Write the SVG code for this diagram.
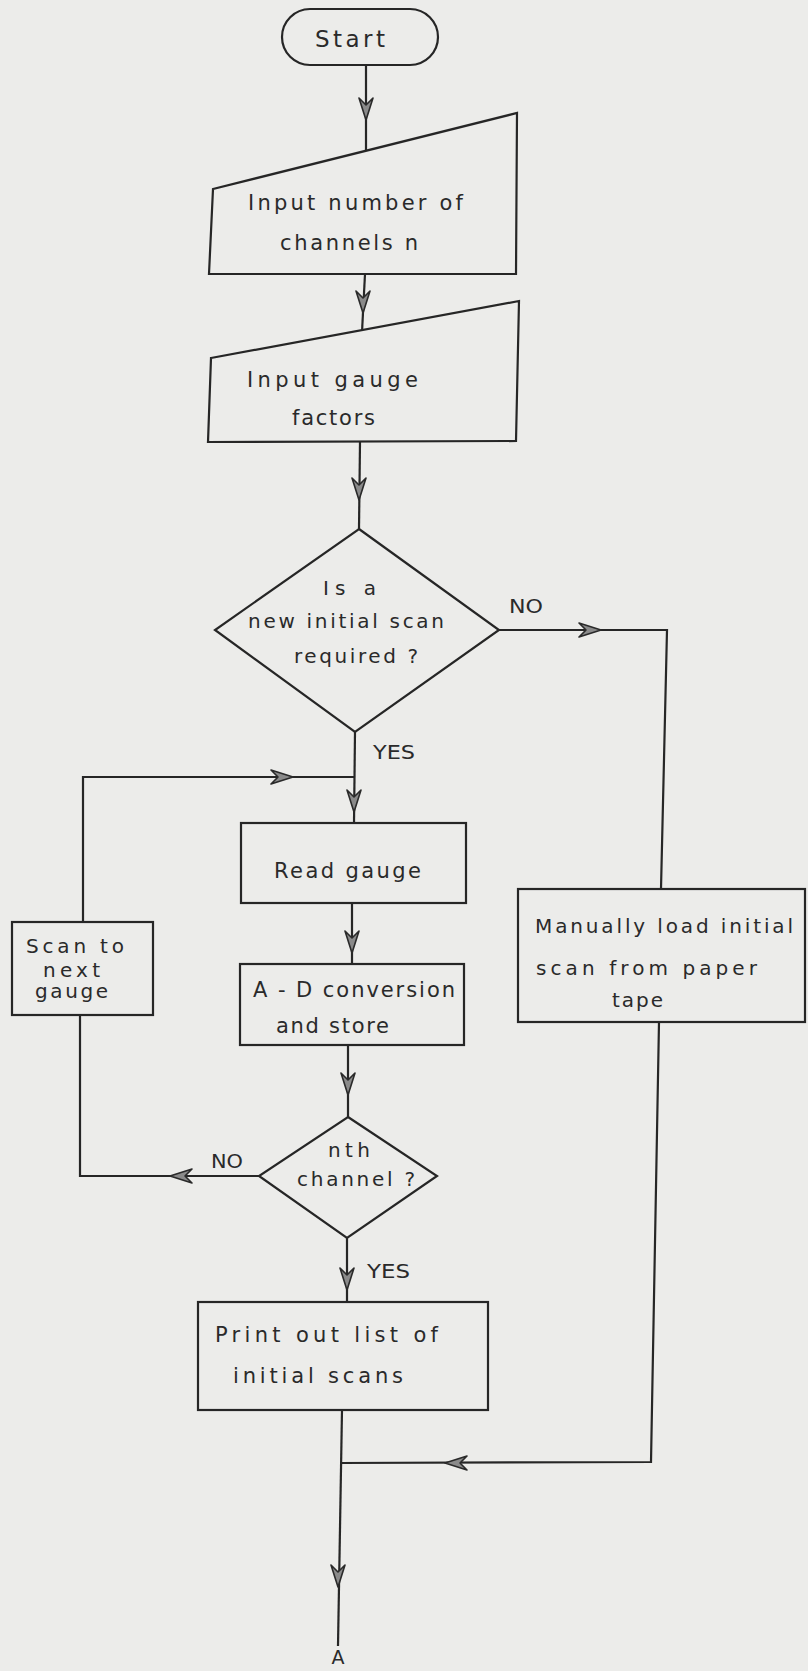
<svg xmlns="http://www.w3.org/2000/svg" xmlns:xlink="http://www.w3.org/1999/xlink" width="808" height="1671" viewBox="0 0 808 1671">
<style>
.sh{fill:#ececea;stroke:#262626;stroke-width:2.2;stroke-linejoin:miter}
.cn{fill:none;stroke:#262626;stroke-width:2.2}
.t{font-family:"DejaVu Sans","Liberation Sans",sans-serif;fill:#2a2a2a;font-size:21px}
.s{font-size:19px}
.m{font-size:20px}
.l{font-size:23px}
</style>
<defs>
<path id="ah" d="M-22,-7 L0,0 L-22,7 L-15,0 Z" fill="#8a8a8a" stroke="#2a2a2a" stroke-width="1.6" stroke-linejoin="round"/>
</defs>
<rect width="808" height="1671" fill="#ececea"/>

<g id="connectors">
<path class="cn" d="M366,65 L366,152"/>
<path class="cn" d="M365,274 L362,332"/>
<path class="cn" d="M360,442 L359,529"/>
<path class="cn" d="M499,630 L667,630 L661,889"/>
<path class="cn" d="M355,732 L354,823"/>
<path class="cn" d="M83,922 L83,777 L354,777"/>
<path class="cn" d="M352,903 L352,964"/>
<path class="cn" d="M348,1045 L348,1117"/>
<path class="cn" d="M259,1176 L80,1176 L80,1015"/>
<path class="cn" d="M347,1238 L347,1302"/>
<path class="cn" d="M659,1022 L651,1462 L340,1463"/>
<path class="cn" d="M342,1410 L338,1646"/>
<use xlink:href="#ah" transform="translate(366,120) rotate(90)"/>
<use xlink:href="#ah" transform="translate(363,313) rotate(90)"/>
<use xlink:href="#ah" transform="translate(359,500) rotate(90)"/>
<use xlink:href="#ah" transform="translate(601,630)"/>
<use xlink:href="#ah" transform="translate(354,812) rotate(90)"/>
<use xlink:href="#ah" transform="translate(293,777)"/>
<use xlink:href="#ah" transform="translate(352,953) rotate(90)"/>
<use xlink:href="#ah" transform="translate(348,1095) rotate(90)"/>
<use xlink:href="#ah" transform="translate(170,1176) rotate(180)"/>
<use xlink:href="#ah" transform="translate(347,1290) rotate(90)"/>
<use xlink:href="#ah" transform="translate(445,1463) rotate(180)"/>
<use xlink:href="#ah" transform="translate(338,1587) rotate(90)"/>
<text class="t s" x="509" y="613" textLength="34" lengthAdjust="spacingAndGlyphs">NO</text>
<text class="t s" x="373" y="759" textLength="42" lengthAdjust="spacingAndGlyphs">YES</text>
<text class="t s" x="211" y="1168" textLength="32" lengthAdjust="spacingAndGlyphs">NO</text>
<text class="t s" x="367" y="1278" textLength="43" lengthAdjust="spacingAndGlyphs">YES</text>
<text class="t s" x="338" y="1664" text-anchor="middle">A</text>
</g>

<g id="start">
<rect class="sh" x="282" y="9" width="156" height="56" rx="28"/>
<text class="t l" x="315" y="47" textLength="70" lengthAdjust="spacing">Start</text>
</g>

<g id="input-channels">
<path class="sh" d="M213,189 L517,113 L516,274 L209,274 Z"/>
<text class="t" x="248" y="210" textLength="215" lengthAdjust="spacing">Input number of</text>
<text class="t" x="280" y="250" textLength="138" lengthAdjust="spacing">channels n</text>
</g>

<g id="input-gauge">
<path class="sh" d="M211,358 L519,301 L516,441 L208,442 Z"/>
<text class="t" x="247" y="387" textLength="171" lengthAdjust="spacing">Input gauge</text>
<text class="t" x="292" y="425" textLength="83" lengthAdjust="spacing">factors</text>
</g>

<g id="decision-scan">
<path class="sh" d="M359,529 L499,630 L355,732 L215,630 Z"/>
<text class="t m" x="323" y="595" textLength="53" lengthAdjust="spacing">Is a</text>
<text class="t m" x="248" y="628" textLength="196" lengthAdjust="spacing">new initial scan</text>
<text class="t m" x="294" y="663" textLength="124" lengthAdjust="spacing">required ?</text>
</g>

<g id="read-gauge">
<rect class="sh" x="241" y="823" width="225" height="80"/>
<text class="t" x="274" y="878" textLength="147" lengthAdjust="spacing">Read gauge</text>
</g>

<g id="ad-conversion">
<rect class="sh" x="240" y="964" width="224" height="81"/>
<text class="t" x="253" y="997" textLength="202" lengthAdjust="spacing">A - D conversion</text>
<text class="t" x="276" y="1033" textLength="113" lengthAdjust="spacing">and store</text>
</g>

<g id="scan-next">
<rect class="sh" x="12" y="922" width="141" height="93"/>
<text class="t m" x="26" y="953" textLength="98" lengthAdjust="spacing">Scan to</text>
<text class="t m" x="43" y="977" textLength="57" lengthAdjust="spacing">next</text>
<text class="t m" x="35" y="998" textLength="73" lengthAdjust="spacing">gauge</text>
</g>

<g id="manual-load">
<rect class="sh" x="518" y="889" width="287" height="133"/>
<text class="t m" x="535" y="933" textLength="258" lengthAdjust="spacing">Manually load initial</text>
<text class="t m" x="536" y="975" textLength="221" lengthAdjust="spacing">scan from paper</text>
<text class="t m" x="612" y="1007" textLength="51" lengthAdjust="spacing">tape</text>
</g>

<g id="decision-nth">
<path class="sh" d="M348,1117 L437,1176 L347,1238 L259,1176 Z"/>
<text class="t m" x="328" y="1157" textLength="42" lengthAdjust="spacing">nth</text>
<text class="t m" x="297" y="1186" textLength="118" lengthAdjust="spacing">channel ?</text>
</g>

<g id="print-out">
<rect class="sh" x="198" y="1302" width="290" height="108"/>
<text class="t" x="215" y="1342" textLength="223" lengthAdjust="spacing">Print out list of</text>
<text class="t" x="233" y="1383" textLength="170" lengthAdjust="spacing">initial scans</text>
</g>
</svg>
